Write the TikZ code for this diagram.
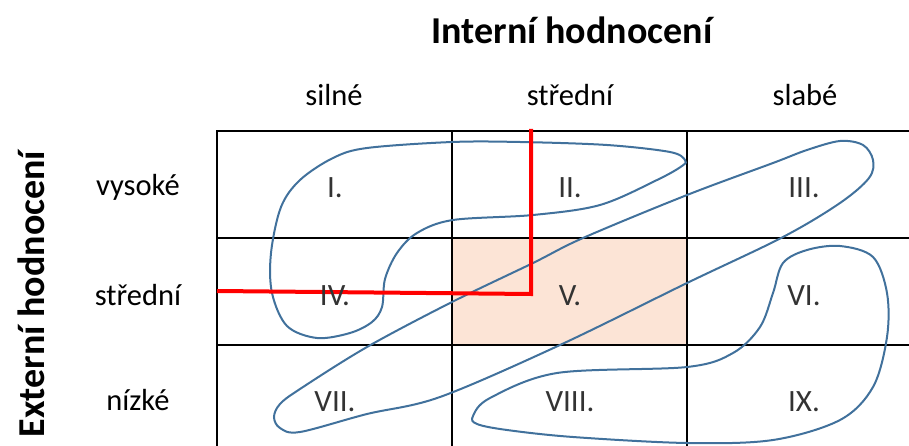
\documentclass[tikz,border=0pt]{standalone}
\usepackage{fontspec}
\setmainfont{Carlito}
\definecolor{outl}{HTML}{41719C}
\definecolor{peach}{HTML}{FCE4D6}
\definecolor{celltxt}{HTML}{333333}
\begin{document}
\begin{tikzpicture}[x=1pt,y=-1pt,
  gridline/.style={line width=1.4pt,black},
  blob/.style={outl,line width=2pt},
  redline/.style={red,line width=4pt},
  title/.style={font=\fontsize{38}{42}\selectfont\bfseries,inner sep=0pt},
  axislbl/.style={font=\fontsize{30.5}{34}\selectfont,inner sep=0pt},
  celllbl/.style={font=\fontsize{31}{34}\selectfont,text=celltxt,inner sep=0pt}]
\useasboundingbox (0,0) rectangle (909,446);
\clip (0,0) rectangle (909,446);
% shaded cell
\fill[peach] (452,238) rectangle (687,345);
% grid
\draw[gridline] (217,460) -- (217,131) -- (930,131);
\draw[gridline] (217,238) -- (930,238);
\draw[gridline] (217,345) -- (930,345);
\draw[gridline] (452,131) -- (452,460);
\draw[gridline] (687,131) -- (687,460);
% blobs
\draw[blob] plot[smooth cycle,tension=0.55] coordinates {
 (685,160) (670,152) (607,145) (520,142) (452,142) (367,148) (333,158) (300,180) (281,207)
 (271,253) (272,293) (287,326) (317,338) (350,333) (372,322) (382,307) (385,279)
 (397,253) (417,233) (453,220) (533,215) (600,205) (657,180) (682,166)};
\draw[blob] plot[smooth cycle,tension=0.55] coordinates {
 (280,404) (300,389) (367,347) (452,302) (533,263) (583,238) (687,195) (773,163)
 (807,150) (840,141) (863,145) (873,160) (869,178) (840,203) (783,237) (687,283)
 (560,345) (440,397) (367,414) (300,432) (280,428) (274,417)};
\draw[blob] plot[smooth cycle,tension=0.55] coordinates {
 (473,416) (490,398) (557,373) (687,367) (733,353) (760,327) (773,293) (783,263)
 (807,250) (840,246) (873,257) (887,293) (887,337) (873,387) (840,420) (773,440)
 (687,443) (573,437) (507,430) (477,424)};
% red line
\draw[redline,line join=miter] (531,129) -- (531,294) -- (217,291);
% labels
\node[title] (tit) at (572,30) {Interní hodnocení};
\node[title,rotate=90] (ext) at (31,294) {Externí hodnocení};
\node[axislbl] (c1) at (334,95) {silné};
\node[axislbl] (c2) at (570,95) {střední};
\node[axislbl] (c3) at (805,95) {slabé};
\node[axislbl] (r1) at (138,187) {vysoké};
\node[axislbl] (r2) at (138,295) {střední};
\node[axislbl] (r3) at (138,400) {nízké};
\node[celllbl] (n1) at (335,188) {I.};
\node[celllbl] (n2) at (570,188) {II.};
\node[celllbl] (n3) at (804,188) {III.};
\node[celllbl] (n4) at (335,296) {IV.};
\node[celllbl] (n5) at (570,296) {V.};
\node[celllbl] (n6) at (804,296) {VI.};
\node[celllbl] (n7) at (335,402) {VII.};
\node[celllbl] (n8) at (570,402) {VIII.};
\node[celllbl] (n9) at (804,402) {IX.};
\end{tikzpicture}
\end{document}
